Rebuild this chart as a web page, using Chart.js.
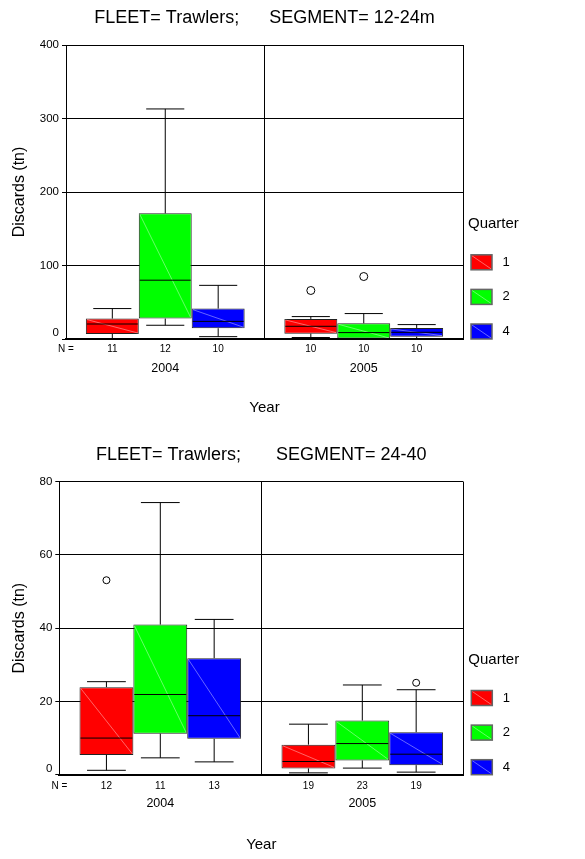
<!DOCTYPE html>
<html>
<head>
<meta charset="utf-8">
<script src="https://cdn.jsdelivr.net/npm/chart.js@4.4.0/dist/chart.umd.min.js"></script>
<style>
body { margin: 0; background: #fff; }
canvas { display: block; }
</style>
</head>
<body>
<canvas id="chartA" width="585" height="430"></canvas>
<canvas id="chartB" width="585" height="429"></canvas>
<script>
var years = ["2004", "2005"];
var quarters = ["1", "2", "4"];
var colors = ["#ff0000", "#00ff00", "#0000ff"];

// segment 12-24m: one row per quarter, one value per year
var aMin = [[0.5, 2], [18.7, 0], [3.2, 0.5]];
var aQ1 = [[6.8, 7.3], [27.8, 0], [14.6, 3.2]];
var aMed = [[20.4, 17.3], [80, 8.7], [24, 9.1]];
var aQ3 = [[27.8, 27.3], [171, 21.4], [41.4, 15]];
var aMax = [[41.4, 30.5], [313, 34.6], [73, 19.6]];
var aOut = [[[], [66]], [[], [85]], [[], []]];
var aN = [[11, 10], [12, 10], [10, 10]];

// segment 24-40
var bMin = [[1.2, 0.5], [4.6, 1.8], [3.5, 0.7]];
var bQ1 = [[5.4, 1.7], [11.2, 3.9], [9.8, 2.6]];
var bMed = [[10, 3.6], [21.9, 8.5], [16.1, 5.6]];
var bQ3 = [[23.9, 8.2], [41, 14.8], [31.8, 11.6]];
var bMax = [[25.4, 13.8], [74.3, 24.5], [42.4, 23.2]];
var bOut = [[[53.1], []], [[], []], [[], [25.1]]];
var bN = [[12, 19], [11, 23], [13, 19]];

Chart.defaults.font.family = "Arial, 'Liberation Sans', sans-serif";
Chart.defaults.color = "#000";

function seg(ctx, x1, y1, x2, y2) {
  ctx.beginPath();
  ctx.moveTo(x1, y1);
  ctx.lineTo(x2, y2);
  ctx.stroke();
}

// whiskers, medians, outliers, N row and the Quarter legend
var boxPlot = {
  id: "boxPlot",
  afterDatasetsDraw: function(chart, args, o) {
    var ctx = chart.ctx, y = chart.scales.y, area = chart.chartArea;
    ctx.save();
    ctx.lineWidth = 1;
    chart.data.datasets.forEach(function(ds, i) {
      chart.getDatasetMeta(i).data.forEach(function(bar, j) {
        var l = bar.x - bar.width / 2, r = bar.x + bar.width / 2;
        var top = y.getPixelForValue(o.q3[i][j]), bot = y.getPixelForValue(o.q1[i][j]);
        var med = y.getPixelForValue(o.med[i][j]);
        var hi = y.getPixelForValue(o.max[i][j]), lo = y.getPixelForValue(o.min[i][j]);
        var cap = bar.width * 0.36;
        ctx.strokeStyle = "rgba(255,255,255,0.4)";
        seg(ctx, l + 1, top + 1, r - 1, bot - 1);
        ctx.strokeStyle = "#000";
        seg(ctx, l + 1, med, r - 1, med);
        seg(ctx, bar.x, top, bar.x, hi);
        seg(ctx, bar.x - cap, hi, bar.x + cap, hi);
        seg(ctx, bar.x, bot, bar.x, lo);
        seg(ctx, bar.x - cap, lo, bar.x + cap, lo);
        o.out[i][j].forEach(function(v) {
          ctx.beginPath();
          ctx.arc(bar.x, y.getPixelForValue(v), o.r, 0, Math.PI * 2);
          ctx.fillStyle = "#fff";
          ctx.fill();
          ctx.stroke();
        });
        ctx.fillStyle = "#000";
        ctx.font = "10px Arial, 'Liberation Sans', sans-serif";
        ctx.textAlign = "center";
        ctx.textBaseline = "middle";
        ctx.fillText(String(o.n[i][j]), bar.x, area.bottom + o.nGap);
      });
    });
    ctx.fillText("N =", area.left, area.bottom + o.nGap);

    // zero label sits just above the axis
    ctx.font = "11.5px Arial, 'Liberation Sans', sans-serif";
    ctx.textAlign = "right";
    ctx.fillText("0", y.right - 7, y.getPixelForValue(0) - 6);

    // legend
    var lx = area.right + 8, step = 34.6;
    ctx.font = "15px Arial, 'Liberation Sans', sans-serif";
    ctx.textAlign = "left";
    ctx.fillText("Quarter", area.right + 5, area.bottom - 115);
    quarters.forEach(function(q, k) {
      var by = area.bottom - 15 - (quarters.length - 1 - k) * step;
      ctx.fillStyle = colors[k];
      ctx.fillRect(lx, by, 21, 15);
      ctx.strokeStyle = "rgba(255,255,255,0.4)";
      seg(ctx, lx + 1, by + 1, lx + 20, by + 14);
      ctx.strokeStyle = "#666";
      ctx.lineWidth = 1.5;
      ctx.strokeRect(lx, by, 21, 15);
      ctx.lineWidth = 1;
      ctx.fillStyle = "#000";
      ctx.font = "13px Arial, 'Liberation Sans', sans-serif";
      ctx.textAlign = "center";
      ctx.fillText(q, lx + 35, by + 7.5);
    });
    ctx.restore();
  }
};

function makeChart(id, p) {
  return new Chart(id, {
    type: "bar",
    data: {
      labels: years,
      datasets: quarters.map(function(q, i) {
        return {
          label: q,
          data: years.map(function(yr, j) { return [p.q1[i][j], p.q3[i][j]]; }),
          backgroundColor: colors[i],
          borderColor: "#222",
          borderWidth: 1,
          borderSkipped: false,
          categoryPercentage: 0.8,
          barPercentage: 1.0
        };
      })
    },
    options: {
      responsive: false,
      animation: false,
      layout: { padding: { left: 0, right: p.right, top: 0, bottom: 0 } },
      plugins: {
        legend: { display: false },
        tooltip: { enabled: false },
        title: {
          display: true,
          fullSize: false,
          text: p.title,
          font: { size: 18, weight: "normal" },
          padding: { top: p.titleTop, bottom: p.titleBottom }
        },
        boxPlot: p
      },
      scales: {
        x: {
          grid: {
            offset: true,
            drawTicks: false,
            color: function(c) { return c.index === 2 ? "#555" : "#000"; }
          },
          border: { color: "#000", width: 2, z: 1 },
          ticks: { font: { size: 12.5 }, padding: 21.8 },
          title: { display: true, text: "Year", font: { size: 15 }, padding: { bottom: p.yearPad } },
          afterFit: function(s) { s.height = p.xHeight; }
        },
        y: {
          min: 0,
          max: p.yMax,
          ticks: {
            stepSize: p.yStep,
            font: { size: 11.5 },
            padding: 3,
            callback: function(v) { return v === 0 ? "" : v; }
          },
          grid: { color: "#000", tickLength: 4 },
          border: { color: "#000" },
          title: { display: true, text: "Discards (tn)", font: { size: 16 }, padding: { top: 10.4, bottom: 0 } },
          afterFit: function(s) { s.width = p.yWidth; }
        }
      }
    },
    plugins: [boxPlot]
  });
}

makeChart("chartA", {
  title: "FLEET= Trawlers;      SEGMENT= 12-24m",
  q1: aQ1, q3: aQ3, med: aMed, min: aMin, max: aMax, out: aOut, n: aN,
  yMax: 400, yStep: 100, r: 4, nGap: 10.5,
  right: 122, yWidth: 66, xHeight: 91, titleTop: 7.7, titleBottom: 15.7, yearPad: 13
});

makeChart("chartB", {
  title: "FLEET= Trawlers;       SEGMENT= 24-40",
  q1: bQ1, q3: bQ3, med: bMed, min: bMin, max: bMax, out: bOut, n: bN,
  yMax: 80, yStep: 20, r: 3.5, nGap: 12,
  right: 121.7, yWidth: 59.3, xHeight: 84.3, titleTop: 14.2, titleBottom: 15.9, yearPad: 5
});
</script>
</body>
</html>
